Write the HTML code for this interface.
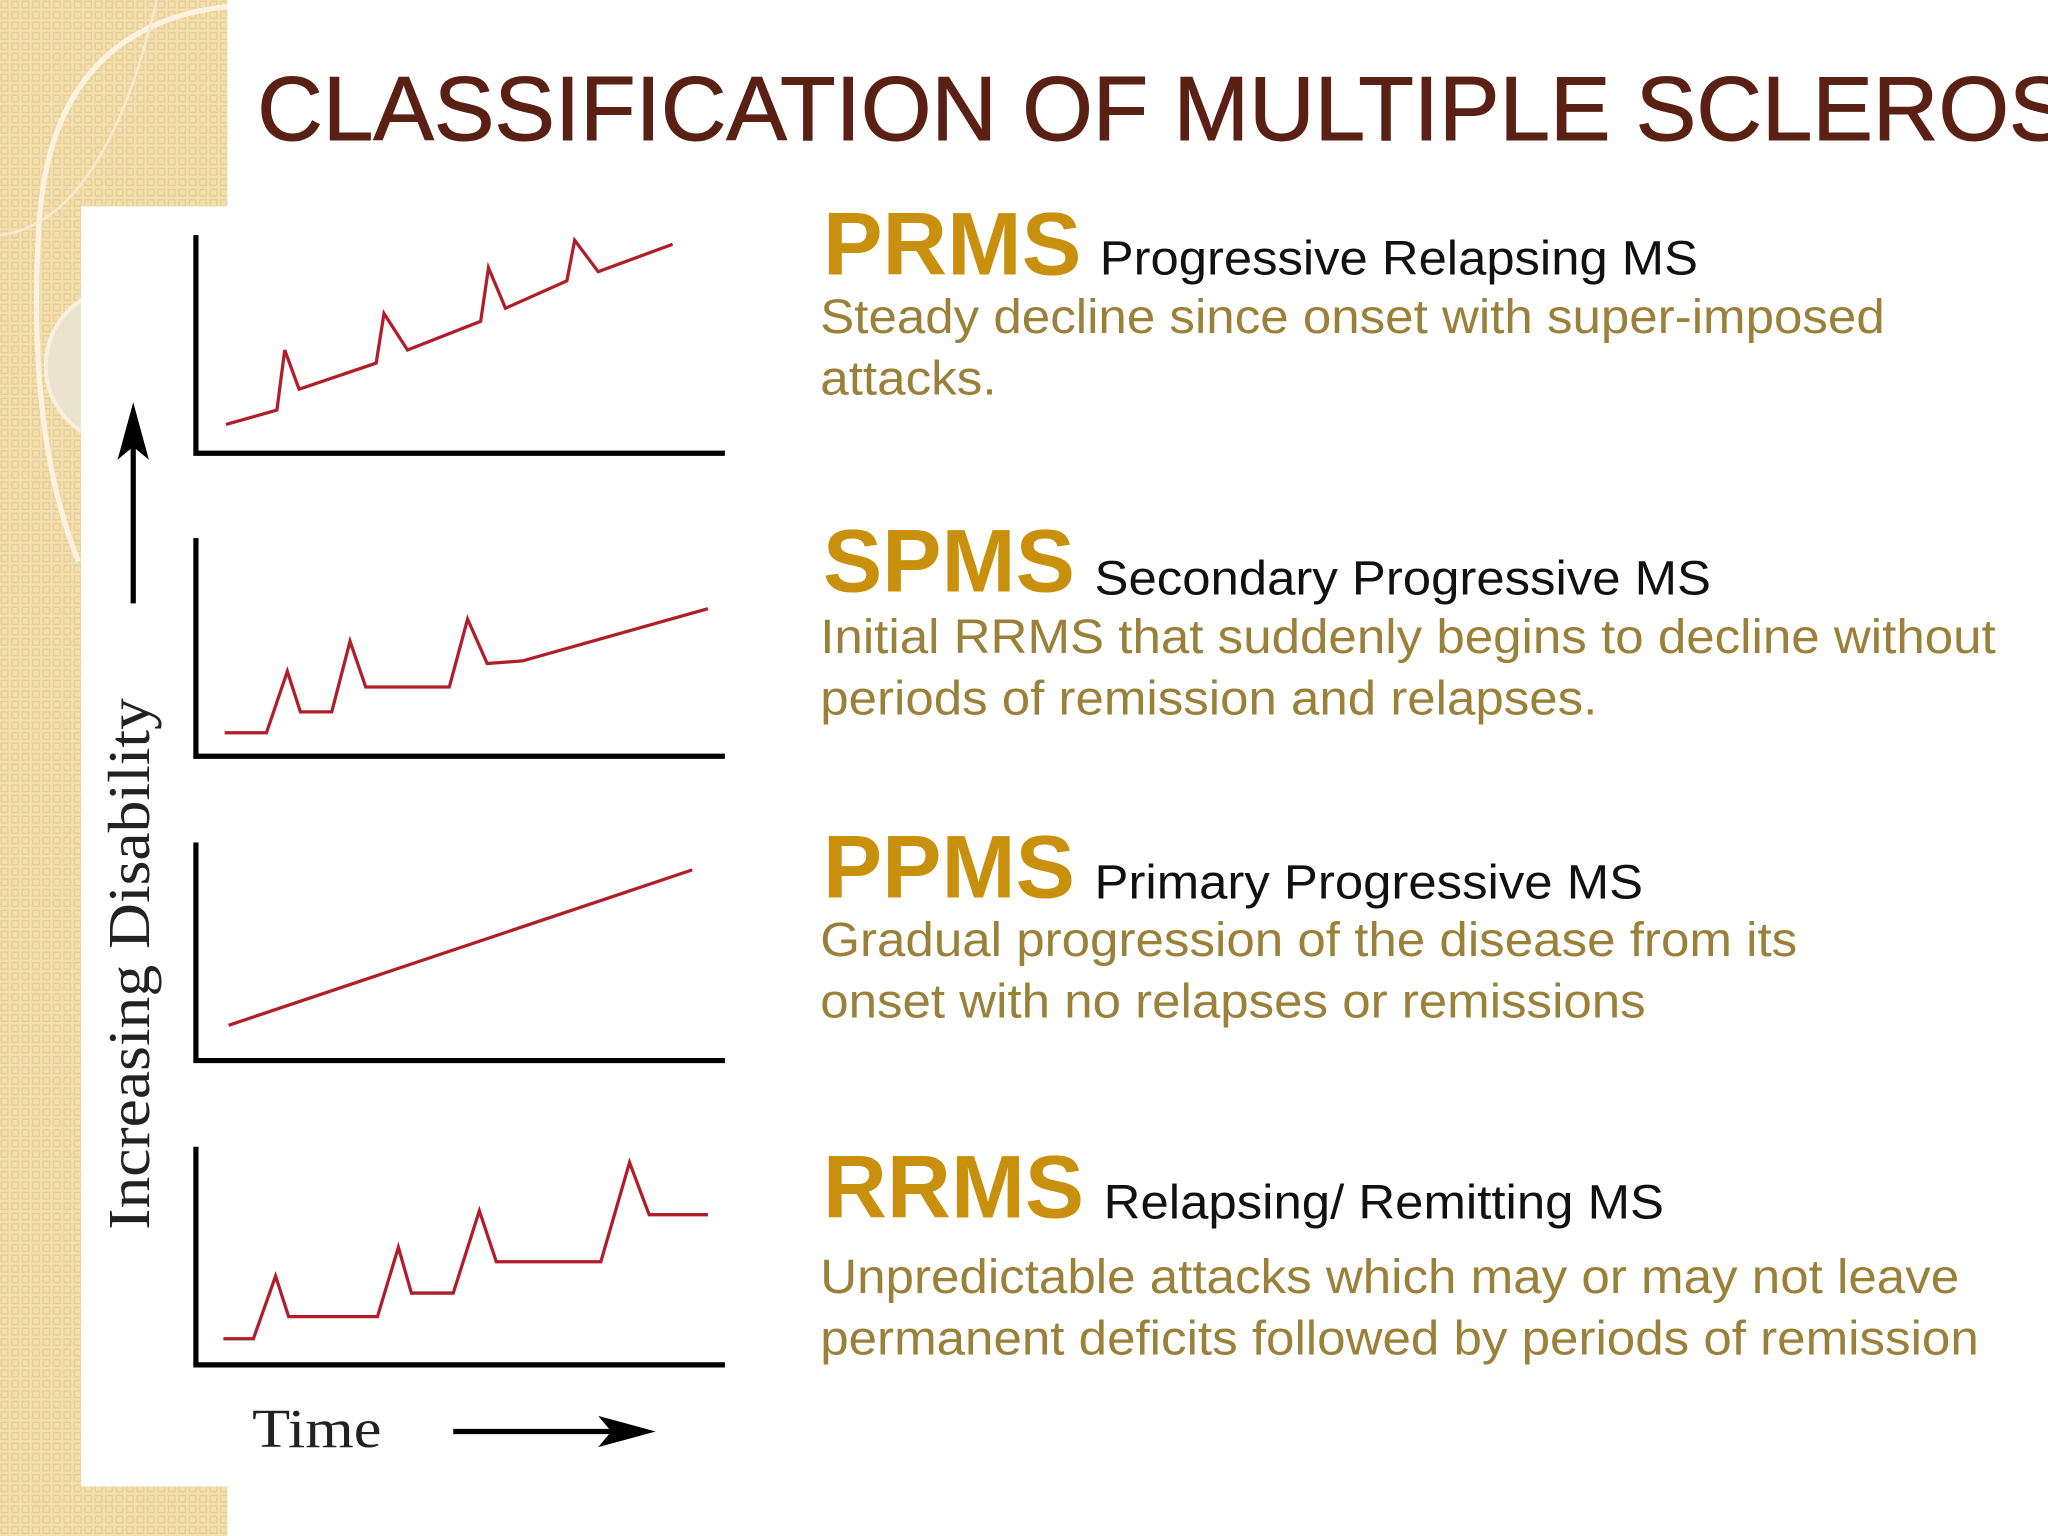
<!DOCTYPE html>
<html><head><meta charset="utf-8"><style>
html,body{margin:0;padding:0;background:#fff;}
svg{display:block;}
</style></head><body>
<svg id="slide" width="2048" height="1536" viewBox="0 0 1568 1176" xmlns="http://www.w3.org/2000/svg">
<defs>
<pattern id="dots" width="8" height="8" patternUnits="userSpaceOnUse">
<rect width="8" height="8" fill="#f2dfb0"/><rect x="1" y="1" width="5" height="5" fill="none" stroke="#e6cd92" stroke-width="1"/>
</pattern>
</defs>
<g>
<rect x="0" y="0" width="174" height="1176" fill="url(#dots)"/>
<path d="M174 5 Q40 20 30 170 Q20 330 60 430" fill="none" stroke="#fbf3df" stroke-width="4"/>
<path d="M0 180 Q80 170 120 0" fill="none" stroke="#f5ead0" stroke-width="2"/>
<circle cx="95" cy="280" r="60" fill="#ece3cf" stroke="#f8f0dc" stroke-width="3"/>
</g>
<rect x="62" y="158" width="498" height="980" fill="#fff"/>
<text x="197" y="107" font-family="Liberation Sans, sans-serif" font-size="69.5" fill="#5a2014" stroke="#5a2014" stroke-width="0.8">CLASSIFICATION OF MULTIPLE SCLEROSIS</text>

<g id="charts"></g>

<g>
<text x="0" y="0" transform="translate(114 738) rotate(-90)" text-anchor="middle" font-family="Liberation Serif, serif" font-size="45" fill="#222" textLength="407" lengthAdjust="spacingAndGlyphs">Increasing Disability</text>
<line x1="102" y1="462" x2="102" y2="330" stroke="#000" stroke-width="4"/>
<polygon points="102,308 90,352 102,342 114,352" fill="#000"/>
</g>
<g>
<text x="193" y="1108" font-family="Liberation Serif, serif" font-size="42" fill="#222" textLength="99" lengthAdjust="spacingAndGlyphs">Time</text>
<line x1="347" y1="1096" x2="480" y2="1096" stroke="#000" stroke-width="4"/>
<polygon points="502,1096 458,1084 468,1096 458,1108" fill="#000"/>
</g>

<g font-family="Liberation Sans, sans-serif">
<g>
<text x="630" y="210" font-size="68" font-weight="bold" fill="#c8900c" textLength="198" lengthAdjust="spacingAndGlyphs">PRMS</text>
<text x="842" y="210" font-size="37" fill="#111" textLength="458" lengthAdjust="spacingAndGlyphs">Progressive Relapsing MS</text>
<text x="628" y="255" font-size="37" fill="#9a8038" textLength="815" lengthAdjust="spacingAndGlyphs">Steady decline since onset with super-imposed</text>
<text x="628" y="302" font-size="37" fill="#9a8038" textLength="135" lengthAdjust="spacingAndGlyphs">attacks.</text>
</g>
<g>
<text x="630" y="453" font-size="68" font-weight="bold" fill="#c8900c" textLength="193" lengthAdjust="spacingAndGlyphs">SPMS</text>
<text x="838" y="455" font-size="37" fill="#111" textLength="472" lengthAdjust="spacingAndGlyphs">Secondary Progressive MS</text>
<text x="628" y="500" font-size="37" fill="#9a8038" textLength="900" lengthAdjust="spacingAndGlyphs">Initial RRMS that suddenly begins to decline without</text>
<text x="628" y="547" font-size="37" fill="#9a8038" textLength="595" lengthAdjust="spacingAndGlyphs">periods of remission and relapses.</text>
</g>
<g>
<text x="630" y="687" font-size="68" font-weight="bold" fill="#c8900c" textLength="193" lengthAdjust="spacingAndGlyphs">PPMS</text>
<text x="838" y="688" font-size="37" fill="#111" textLength="420" lengthAdjust="spacingAndGlyphs">Primary Progressive MS</text>
<text x="628" y="732" font-size="37" fill="#9a8038" textLength="748" lengthAdjust="spacingAndGlyphs">Gradual progression of the disease from its</text>
<text x="628" y="779" font-size="37" fill="#9a8038" textLength="632" lengthAdjust="spacingAndGlyphs">onset with no relapses or remissions</text>
</g>
<g>
<text x="630" y="932" font-size="68" font-weight="bold" fill="#c8900c" textLength="200" lengthAdjust="spacingAndGlyphs">RRMS</text>
<text x="845" y="933" font-size="37" fill="#111" textLength="429" lengthAdjust="spacingAndGlyphs">Relapsing/ Remitting MS</text>
<text x="628" y="990" font-size="37" fill="#9a8038" textLength="872" lengthAdjust="spacingAndGlyphs">Unpredictable attacks which may or may not leave</text>
<text x="628" y="1037" font-size="37" fill="#9a8038" textLength="887" lengthAdjust="spacingAndGlyphs">permanent deficits followed by periods of remission</text>
</g>
</g>
</svg>
<script>
// time units (0..405) and disability units (0..167) per chart
const chartNames = ['prms', 'spms', 'ppms', 'rrms'];
const prmsTime = [23, 62, 68, 79, 138, 144, 162, 218, 224, 237, 284, 290, 308, 365];
const prmsDisability = [22, 33, 79, 49, 69, 107, 79, 101, 142, 111, 132, 163, 139, 160];
const spmsTime = [22, 54, 70, 80, 104, 118, 130, 194, 208, 223, 250, 392];
const spmsDisability = [18, 18, 65, 34, 34, 88, 53, 53, 105, 71, 73, 113];
const ppmsTime = [25, 380];
const ppmsDisability = [27, 146];
const rrmsTime = [21, 44, 61, 71, 139, 155, 165, 197, 217, 230, 310, 332, 347, 392];
const rrmsDisability = [20, 20, 68, 37, 37, 90, 55, 55, 118, 79, 79, 155, 115, 115];

const seriesTime = [prmsTime, spmsTime, ppmsTime, rrmsTime];
const seriesDis = [prmsDisability, spmsDisability, ppmsDisability, rrmsDisability];
const NS = 'http://www.w3.org/2000/svg';
const g = document.getElementById('charts');
const originX = 150, baselines = [347, 579, 812, 1045], axisH = 167, axisW = 405;
function xScale(t) { return originX + t; }
function yScale(v, i) { return baselines[i] - v; }
chartNames.forEach(function (name, i) {
  const grp = document.createElementNS(NS, 'g');
  
  
  const ax = document.createElementNS(NS, 'polyline');
  
  
  ax.setAttribute('points', originX + ',' + (baselines[i] - axisH) + ' ' + originX + ',' + baselines[i] + ' ' + (originX + axisW) + ',' + baselines[i]);
  ax.setAttribute('fill', 'none');
  ax.setAttribute('stroke', '#000');
  ax.setAttribute('stroke-width', '4');
  grp.appendChild(ax);
  const pts = seriesTime[i].map(function (t, k) { return xScale(t) + ',' + yScale(seriesDis[i][k], i); }).join(' ');
  const line = document.createElementNS(NS, 'polyline');
  
  
  line.setAttribute('points', pts);
  line.setAttribute('fill', 'none');
  line.setAttribute('stroke', '#b01e2a');
  line.setAttribute('stroke-width', '2.5');
  line.setAttribute('stroke-linejoin', 'miter');
  grp.appendChild(line);
  g.appendChild(grp);
});
</script>
</body></html>
